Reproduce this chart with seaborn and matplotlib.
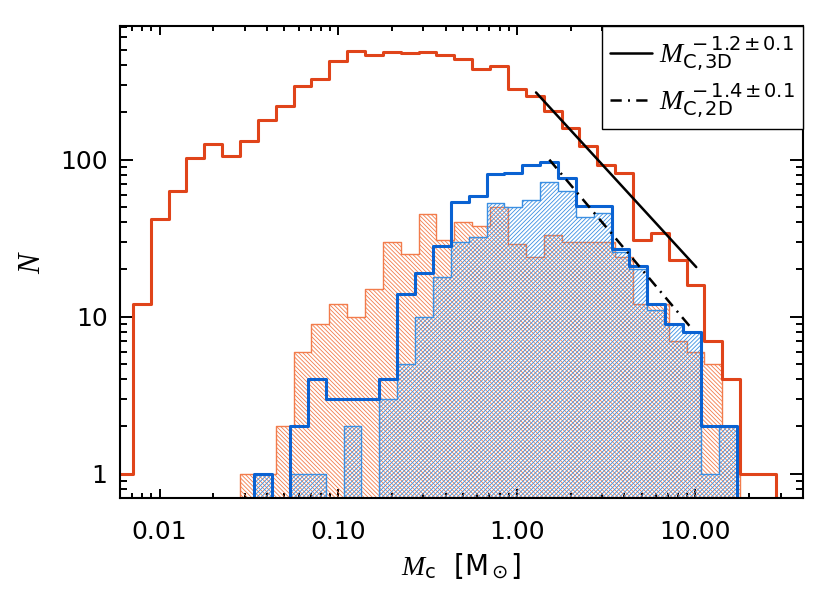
import numpy as np
import seaborn as sns
import matplotlib
matplotlib.use("Agg")
import matplotlib.pyplot as plt
from matplotlib.lines import Line2D
from matplotlib.ticker import LogLocator, NullFormatter

# log10 bin centres, 0.1 dex wide (the blue set sits 0.02 dex lower)
log_m_red = np.round(np.arange(-2.2, 1.55, 0.1), 2)
log_m_blue = np.round(np.arange(-1.5, 1.35, 0.1) - 0.02, 2)

# counts
n_red_all = [1, 12, 42, 63, 102, 126, 105, 131, 180, 221, 296, 327, 423, 495,
             462, 485, 478, 485, 462, 438, 378, 397, 282, 256, 203, 159, 122,
             93, 82, 31, 34, 23, 16, 7, 4, 1, 1, 0]
n_red_sub = [0, 0, 0, 0, 0, 0, 0, 1, 1, 2, 6, 9, 12, 10, 15, 30, 25, 45, 31,
             40, 38, 50, 29, 24, 33, 30, 30, 30, 24, 12, 12, 7, 6, 5, 2, 0, 0, 0]
n_blue_all = [0, 1, 0, 2, 4, 3, 3, 3, 4, 14, 19, 28, 54, 59, 81, 82, 92, 96,
              76, 51, 51, 27, 21, 12, 9, 8, 2, 2, 0]
n_blue_sub = [0, 1, 0, 1, 1, 0, 2, 0, 3, 5, 10, 18, 30, 32, 53, 50, 55, 72,
              63, 43, 46, 26, 20, 11, 9, 8, 1, 2, 0]

# power-law fits: N = norm * M^slope over [m_lo, m_hi]
fit3d_norm, fit3d_slope, fit3d_range = 364.0, -1.24, [1.28, 10.1]
fit2d_norm, fit2d_slope, fit2d_range = 176.0, -1.35, [1.52, 9.7]
fit3d_label = r'$M_{\rm C,3D}^{\ -1.2\pm0.1}$'
fit2d_label = r'$M_{\rm C,2D}^{\ -1.4\pm0.1}$'

xtick_vals = [0.01, 0.1, 1.0, 10.0]
xtick_labels = ['0.01', '0.10', '1.00', '10.00']
ytick_vals = [1, 10, 100]
ytick_labels = ['1', '10', '100']

red_dark = '#e0441a'
red_light = '#f27c4c'
blue_dark = '#0a62d2'
blue_light = '#3b8fe2'

sns.set_style("ticks")
plt.rcParams['font.family'] = ['DejaVu Sans']
plt.rcParams['mathtext.fontset'] = 'custom'
plt.rcParams['mathtext.it'] = 'Liberation Serif:italic'
plt.rcParams['mathtext.rm'] = 'DejaVu Sans'
plt.rcParams['hatch.linewidth'] = 0.6
for key in ['text.color', 'axes.labelcolor', 'xtick.color', 'ytick.color']:
    plt.rcParams[key] = 'black'

fig = plt.figure(figsize=(8.3, 5.94), dpi=100)
ax = fig.add_axes([0.1446, 0.1616, 0.8229, 0.7946])


def step_hist(centres, counts, **kw):
    lo = centres[0] - 0.05
    nb = len(centres)
    sns.histplot(x=10.0 ** centres, weights=counts, bins=nb,
                 binrange=(lo, lo + 0.1 * nb), log_scale=True,
                 element="step", ax=ax, **kw)


# hatched subsets
step_hist(log_m_red, n_red_sub, fill=True, color=red_light, facecolor='none',
          edgecolor=red_light, hatch='\\' * 8, linewidth=1.0)
step_hist(log_m_blue, n_blue_sub, fill=True, color=blue_light, facecolor='none',
          edgecolor=blue_light, hatch='/' * 8, linewidth=1.0)
# full samples
step_hist(log_m_red, n_red_all, fill=False, color=red_dark, linewidth=2.2)
step_hist(log_m_blue, n_blue_all, fill=False, color=blue_dark, linewidth=2.2)

# fits
dashdot = (0, (4.5, 2.5, 0.8, 2.5))
m3 = np.array(fit3d_range)
m2 = np.array(fit2d_range)
ax.plot(m3, fit3d_norm * m3 ** fit3d_slope, color='k', lw=1.8)
ax.plot(m2, fit2d_norm * m2 ** fit2d_slope, color='k', lw=1.8, linestyle=dashdot)

ax.set_yscale('log', nonpositive='clip')
ax.set_xlim(0.006, 40)
ax.set_ylim(0.7, 710)

ax.set_xticks(xtick_vals, labels=xtick_labels)
ax.set_yticks(ytick_vals, labels=ytick_labels)
ax.xaxis.set_minor_locator(LogLocator(base=10, subs=np.arange(2, 10), numticks=30))
ax.yaxis.set_minor_locator(LogLocator(base=10, subs=np.arange(2, 10), numticks=30))
ax.xaxis.set_minor_formatter(NullFormatter())
ax.yaxis.set_minor_formatter(NullFormatter())
ax.tick_params(which='both', direction='in', top=True, right=True,
               width=1.4, color='k', labelsize=18)
ax.tick_params(axis='x', which='major', length=6.5, pad=16)
ax.tick_params(axis='x', which='minor', length=3.6)
ax.tick_params(axis='y', which='major', length=9.5, pad=9)
ax.tick_params(axis='y', which='minor', length=5)
for sp in ax.spines.values():
    sp.set_linewidth(1.5)
    sp.set_color('k')

ax.set_xlabel(r'$M_{\rm c}$  [M$_\odot$]', fontsize=20, labelpad=5)
ax.set_ylabel(r'$N$', fontsize=22, labelpad=10)

handles = [Line2D([], [], color='k', lw=1.8),
           Line2D([], [], color='k', lw=1.8, linestyle=dashdot)]
leg = ax.legend(handles, [fit3d_label, fit2d_label], loc='upper right',
                fontsize=20, frameon=True, fancybox=False, edgecolor='k',
                framealpha=1, borderaxespad=0, handlelength=1.5,
                handletextpad=0.25, labelspacing=0.3, borderpad=0.3)
leg.get_frame().set_linewidth(1.0)

fig.savefig('out.png', dpi=100)
